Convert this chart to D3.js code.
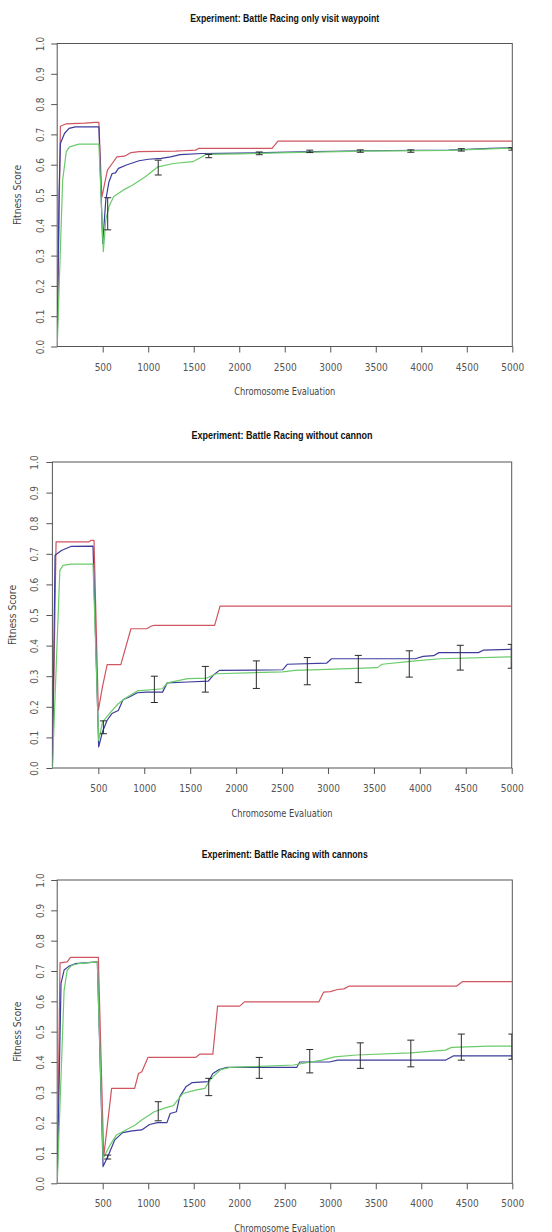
<!DOCTYPE html>
<html>
<head>
<meta charset="utf-8">
<script src="https://cdn.jsdelivr.net/npm/d3@7"></script>
<style>
  html, body { margin: 0; padding: 0; background: #fff; }
  svg { display: block; }
</style>
</head>
<body>
<svg id="chart" width="552" height="1232"></svg>
<script>
// ---------- data ----------
const titles = [
  "Experiment: Battle Racing only visit waypoint",
  "Experiment: Battle Racing without cannon",
  "Experiment: Battle Racing with cannons"
];
const xTicks = [500, 1000, 1500, 2000, 2500, 3000, 3500, 4000, 4500, 5000];
const yTicks = [0.0, 0.1, 0.2, 0.3, 0.4, 0.5, 0.6, 0.7, 0.8, 0.9, 1.0];
const xLabel = "Chromosome Evaluation";
const yLabel = "Fitness Score";

// panel 1: only visit waypoint  [evaluation, fitness]
const p1Red = [[0,0],[35,0.727],[100,0.735],[300,0.737],[420,0.74],[458,0.74],[490,0.492],[552,0.582],[604,0.604],[656,0.626],[740,0.628],[812,0.64],[899,0.643],[1300,0.645],[1385,0.646],[1520,0.648],[1558,0.654],[2360,0.654],[2426,0.678],[5000,0.678]];
const p1Blue = [[0,0],[20,0.5],[35,0.67],[80,0.703],[130,0.72],[200,0.725],[458,0.725],[500,0.34],[534,0.484],[569,0.544],[604,0.571],[640,0.573],[673,0.588],[760,0.599],[899,0.613],[1003,0.618],[1142,0.621],[1246,0.626],[1350,0.633],[1593,0.637],[2000,0.638],[2668,0.642],[3362,0.646],[4300,0.648],[4450,0.65],[4750,0.654],[5000,0.656]];
const p1Green = [[0,0],[60,0.55],[100,0.643],[135,0.659],[239,0.668],[458,0.668],[507,0.313],[534,0.418],[569,0.462],[621,0.495],[725,0.516],[829,0.533],[968,0.56],[1107,0.593],[1280,0.604],[1489,0.61],[1593,0.626],[1630,0.634],[2000,0.636],[2668,0.641],[3362,0.645],[4300,0.647],[4750,0.652],[5000,0.655]];
const p1Err = [[555,0.385,0.491],[1110,0.566,0.615],[1665,0.623,0.634],[2220,0.633,0.642],[2775,0.64,0.648],[3330,0.641,0.649],[3885,0.641,0.649],[4440,0.645,0.653],[4995,0.648,0.656]];

// panel 2: without cannon
const p2Red = [[0,0],[40,0.739],[400,0.739],[420,0.744],[453,0.744],[500,0.188],[545,0.265],[596,0.338],[745,0.338],[855,0.455],[1027,0.455],[1078,0.464],[1110,0.466],[1766,0.466],[1825,0.529],[5000,0.529]];
const p2Blue = [[0,0],[29,0.695],[98,0.711],[201,0.724],[442,0.725],[504,0.069],[545,0.118],[596,0.156],[648,0.178],[717,0.188],[769,0.223],[838,0.232],[924,0.246],[1027,0.248],[1199,0.248],[1250,0.278],[1474,0.281],[1697,0.284],[1750,0.303],[1818,0.319],[2506,0.321],[2557,0.339],[2987,0.343],[3039,0.357],[3950,0.357],[4036,0.365],[4150,0.367],[4208,0.377],[4638,0.377],[4690,0.385],[5000,0.388]];
const p2Green = [[0,0],[81,0.646],[115,0.662],[201,0.666],[442,0.666],[504,0.09],[545,0.15],[620,0.178],[717,0.21],[790,0.227],[924,0.252],[1199,0.259],[1250,0.278],[1474,0.292],[1680,0.294],[1783,0.308],[2506,0.314],[2640,0.319],[2987,0.322],[3538,0.328],[3589,0.339],[3950,0.35],[4226,0.357],[5000,0.363]];
const p2Err = [[555,0.112,0.154],[1110,0.214,0.3],[1665,0.248,0.332],[2220,0.26,0.35],[2775,0.272,0.361],[3330,0.279,0.368],[3885,0.297,0.383],[4440,0.32,0.401],[4995,0.326,0.404]];

// panel 3: with cannons
const p3Red = [[0,0],[31,0.727],[110,0.73],[146,0.745],[452,0.745],[511,0.088],[598,0.313],[851,0.313],[893,0.362],[930,0.368],[997,0.415],[1519,0.415],[1570,0.426],[1710,0.426],[1762,0.584],[2005,0.584],[2057,0.598],[2874,0.598],[2926,0.63],[3000,0.632],[3082,0.639],[3150,0.641],[3204,0.65],[4385,0.65],[4455,0.665],[5000,0.665]];
const p3Blue = [[0,0],[42,0.659],[76,0.703],[130,0.716],[198,0.724],[441,0.73],[504,0.055],[563,0.093],[632,0.143],[719,0.167],[824,0.173],[928,0.176],[1015,0.194],[1102,0.2],[1206,0.2],[1241,0.23],[1310,0.236],[1345,0.285],[1414,0.318],[1484,0.332],[1660,0.335],[1710,0.362],[1779,0.375],[1866,0.382],[2631,0.382],[2665,0.4],[2990,0.4],[3082,0.406],[4264,0.406],[4351,0.42],[5000,0.42]];
const p3Green = [[0,0],[76,0.637],[110,0.703],[160,0.719],[230,0.724],[441,0.73],[504,0.082],[580,0.126],[650,0.159],[754,0.176],[858,0.192],[928,0.209],[1067,0.236],[1171,0.247],[1275,0.256],[1380,0.296],[1519,0.307],[1623,0.313],[1692,0.346],[1797,0.375],[1900,0.382],[2596,0.39],[2909,0.406],[3048,0.417],[3291,0.423],[3882,0.43],[4264,0.439],[4333,0.448],[4750,0.452],[5000,0.452]];
const p3Err = [[555,0.08,0.093],[1110,0.206,0.269],[1665,0.289,0.346],[2220,0.346,0.415],[2775,0.364,0.441],[3330,0.379,0.463],[3885,0.384,0.472],[4440,0.406,0.492],[4995,0.409,0.492]];

// ---------- layout / style ----------
const COLORS = { red: "#cf5560", blue: "#3c3c9c", green: "#6acb6a", err: "#2a2a2a", axis: "#555" };
const FONT = "'Liberation Sans Narrow','Arial Narrow','DejaVu Sans Condensed',sans-serif";
const TFONT = "'Liberation Sans',Arial,sans-serif";

const panels = [
  { title: titles[0], red: p1Red, blue: p1Blue, green: p1Green, err: p1Err, titleW: 189,
    left: 57.2, right: 512.3, top: 43.5, bottom: 346.5, titleY: 18, tickLabY: 367, xLabY: 391, yTickLabX: 40, yLabX: 17 },
  { title: titles[1], red: p2Red, blue: p2Blue, green: p2Green, err: p2Err, titleW: 181,
    left: 52.4, right: 511.7, top: 462, bottom: 768, titleY: 435, tickLabY: 788.5, xLabY: 813, yTickLabX: 34, yLabX: 12 },
  { title: titles[2], red: p3Red, blue: p3Blue, green: p3Green, err: p3Err, titleW: 166,
    left: 57.2, right: 512.3, top: 880, bottom: 1183.3, titleY: 854, tickLabY: 1203.5, xLabY: 1228, yTickLabX: 40, yLabX: 17 }
];

const svg = d3.select("#chart");
svg.append("rect").attr("width", 552).attr("height", 1232).attr("fill", "#fff");

panels.forEach((p, i) => {
  const x = d3.scaleLinear().domain([0, 5000]).range([p.left, p.right]);
  const y = d3.scaleLinear().domain([0, 1]).range([p.bottom, p.top]);
  const g = svg.append("g");
  const cx = (p.left + p.right) / 2;

  // title
  g.append("text").attr("x", cx).attr("y", p.titleY).attr("dy", "0.35em")
    .attr("text-anchor", "middle").attr("font-family", TFONT).attr("font-weight", "bold")
    .attr("font-size", 11).attr("fill", "#111")
    .attr("textLength", p.titleW).attr("lengthAdjust", "spacingAndGlyphs").text(p.title);

  // clip
  const clipId = "clip" + i;
  g.append("clipPath").attr("id", clipId).append("rect")
    .attr("x", p.left).attr("y", p.top).attr("width", p.right - p.left).attr("height", p.bottom - p.top);

  // x axis
  const xAxis = d3.axisBottom(x).tickValues(xTicks).tickSize(6).tickFormat(d3.format("d"));
  const gx = g.append("g").attr("transform", `translate(0,${p.bottom})`).call(xAxis);
  gx.select(".domain").remove();
  gx.selectAll(".tick line").attr("stroke", COLORS.axis);
  gx.selectAll(".tick text").attr("y", p.tickLabY - p.bottom).attr("dy", "0.35em")
    .attr("font-family", FONT).attr("font-size", 10).attr("fill", "#555");

  // y axis
  const yAxis = d3.axisLeft(y).tickValues(yTicks).tickSize(6).tickFormat(d3.format(".1f"));
  const gy = g.append("g").attr("transform", `translate(${p.left},0)`).call(yAxis);
  gy.select(".domain").remove();
  gy.selectAll(".tick line").attr("stroke", COLORS.axis);
  gy.selectAll(".tick text")
    .attr("x", null).attr("dy", null)
    .attr("transform", `translate(${p.yTickLabX - p.left},0) rotate(-90)`)
    .attr("y", 0).attr("dy", "0.35em")
    .attr("text-anchor", "middle")
    .attr("font-family", FONT).attr("font-size", 10).attr("fill", "#555");

  // box
  g.append("rect").attr("x", p.left).attr("y", p.top)
    .attr("width", p.right - p.left).attr("height", p.bottom - p.top)
    .attr("fill", "none").attr("stroke", COLORS.axis).attr("stroke-width", 1);

  // axis titles
  g.append("text").attr("x", cx).attr("y", p.xLabY).attr("dy", "0.35em")
    .attr("text-anchor", "middle").attr("font-family", FONT).attr("font-size", 10)
    .attr("textLength", 101).attr("lengthAdjust", "spacingAndGlyphs")
    .attr("fill", "#444").text(xLabel);
  g.append("text").attr("transform", `translate(${p.yLabX},${(p.top + p.bottom) / 2}) rotate(-90)`)
    .attr("dy", "0.35em").attr("text-anchor", "middle").attr("font-family", FONT)
    .attr("textLength", 60).attr("lengthAdjust", "spacingAndGlyphs")
    .attr("font-size", 10).attr("fill", "#444").text(yLabel);

  // lines
  const line = d3.line().x(d => x(d[0])).y(d => y(d[1]));
  const data = g.append("g").attr("clip-path", `url(#${clipId})`);
  [["red", p.red], ["blue", p.blue], ["green", p.green]].forEach(([c, arr]) => {
    data.append("path").datum(arr).attr("d", line)
      .attr("fill", "none").attr("stroke", COLORS[c]).attr("stroke-width", 1.2)
      .attr("stroke-linejoin", "round");
  });

  // error bars
  const eb = data.append("g").attr("stroke", COLORS.err).attr("stroke-width", 1).attr("fill", "none");
  p.err.forEach(e => {
    const ex = x(e[0]);
    eb.append("line").attr("x1", ex).attr("x2", ex).attr("y1", y(e[1])).attr("y2", y(e[2]));
    eb.append("line").attr("x1", ex - 3.5).attr("x2", ex + 3.5).attr("y1", y(e[1])).attr("y2", y(e[1]));
    eb.append("line").attr("x1", ex - 3.5).attr("x2", ex + 3.5).attr("y1", y(e[2])).attr("y2", y(e[2]));
  });
});
</script>
</body>
</html>
